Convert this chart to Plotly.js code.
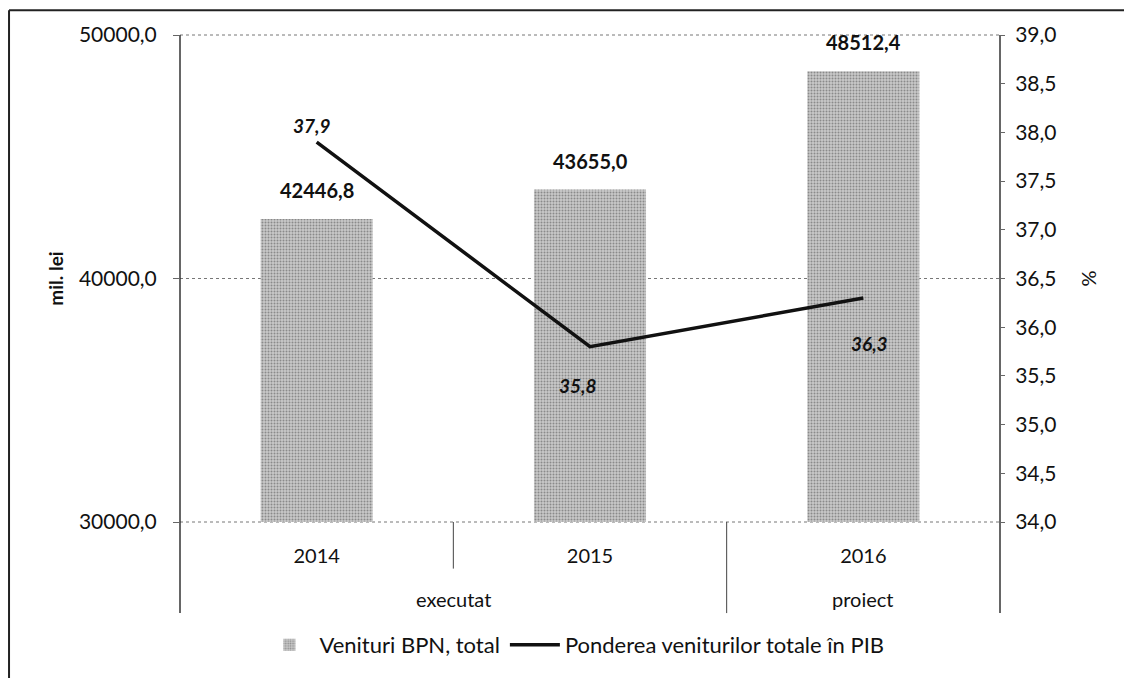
<!DOCTYPE html>
<html>
<head>
<meta charset="utf-8">
<script src="https://cdn.plot.ly/plotly-3.0.1.min.js"></script>
<style>html,body{margin:0;padding:0;background:#fff;}#chart{width:1124px;height:678px;}</style>
</head>
<body>
<div id="chart"></div>
<script>
// ---- data ----
var groups = ["executat", "executat", "proiect"];
var years = ["2014", "2015", "2016"];
var venituri = [42446.8, 43655.0, 48512.4];
var pondere = [37.9, 35.8, 36.3];
var barName = "Venituri BPN, total";
var lineName = "Ponderea veniturilor totale în PIB";
var leftTitle = "mil. lei";
var rightTitle = "%";

var FONT = "Lato, 'Open Sans', sans-serif";
function fmt(v){ return v.toFixed(1).replace('.', ','); }

var barTrace = {
  type: 'bar',
  name: barName,
  x: years,
  y: venituri,
  marker: {
    color: '#bdbdbd',
    pattern: {shape: '.', bgcolor: '#c9c9c9', fgcolor: '#8a8a8a', size: 3, solidity: 0.35},
    line: {width: 0}
  },
  hoverinfo: 'skip'
};
var lineTrace = {
  type: 'scatter',
  mode: 'lines',
  name: lineName,
  x: years,
  y: pondere,
  yaxis: 'y2',
  line: {color: '#111', width: 3.5},
  hoverinfo: 'skip'
};

var annotations = [];
venituri.forEach(function(v, i){
  annotations.push({
    x: i, y: v, xref: 'x', yref: 'y', text: '<b>' + fmt(v) + '</b>',
    showarrow: false, yanchor: 'middle', yshift: 29,
    font: {family: FONT, size: 20, color: '#111'}
  });
});
var lxs = [-5, -12, 6];
var lys = [17, -39, -46];
pondere.forEach(function(v, i){
  annotations.push({
    x: i, y: v, xref: 'x', yref: 'y2', text: '<b><i>' + fmt(v) + '</i></b>',
    showarrow: false, yanchor: 'middle', xshift: lxs[i], yshift: lys[i],
    font: {family: FONT, size: 19, color: '#111'}
  });
});
// group labels (outer category level), centred on their categories
var seen = {};
groups.forEach(function(g, i){
  if(!seen[g]) seen[g] = [];
  seen[g].push(i);
});
Object.keys(seen).forEach(function(g){
  var idx = seen[g];
  var c = (idx[0] + idx[idx.length - 1]) / 2;
  annotations.push({
    x: c, xref: 'x', y: -0.159, yref: 'paper', text: g, showarrow: false,
    yanchor: 'middle', font: {family: FONT, size: 20, color: '#111'}
  });
});

var divider = {color: '#444', width: 1};
var grid = {color: '#777', width: 1, dash: 'dot'};
var layout = {
  width: 1124, height: 678,
  margin: {l: 180, r: 124, t: 35, b: 152},
  paper_bgcolor: '#fff', plot_bgcolor: '#fff',
  separators: ', ',
  font: {family: FONT, size: 20, color: '#111'},
  bargap: 0.59,
  showlegend: true,
  legend: {orientation: 'h', x: 0.481, xanchor: 'center', y: -0.2525, yanchor: 'middle',
           itemwidth: 50, font: {family: FONT, size: 22, color: '#111'}, traceorder: 'normal'},
  xaxis: {
    type: 'category',
    showline: false, showgrid: false, zeroline: false,
    ticks: '', ticklabelstandoff: 20, tickfont: {family: FONT, size: 20, color: '#111'}
  },
  yaxis: {
    range: [30000, 50000], dtick: 10000, tickformat: '.1f',
    showgrid: true, gridcolor: '#777', griddash: 'dot', gridwidth: 1,
    zeroline: false, showline: false,
    ticks: 'outside', ticklen: 6, tickcolor: '#666', ticklabelstandoff: 12,
    tickfont: {family: FONT, size: 21, color: '#111'},
    title: {text: '<b>' + leftTitle + '</b>', font: {family: FONT, size: 19, color: '#111'}, standoff: 10}
  },
  yaxis2: {
    overlaying: 'y', side: 'right',
    range: [34, 39], dtick: 0.5, tickformat: '.1f',
    showgrid: false, zeroline: false, showline: false,
    ticks: 'outside', ticklen: 4, tickcolor: '#666', ticklabelstandoff: 6,
    tickfont: {family: FONT, size: 21, color: '#111'},
    title: {text: rightTitle, font: {family: FONT, size: 20, color: '#111'}, standoff: 26}
  },
  annotations: annotations,
  shapes: [
    {type: 'line', xref: 'paper', yref: 'paper', x0: 0, x1: 1, y0: 1, y1: 1, line: grid, layer: 'below'},
    {type: 'line', xref: 'paper', yref: 'paper', x0: 0, x1: 1, y0: 0, y1: 0, line: grid, layer: 'below'},
    {type: 'line', xref: 'paper', yref: 'paper', x0: 0, x1: 0, y0: 1, y1: -0.187, line: {color: '#333', width: 1.5}},
    {type: 'line', xref: 'paper', yref: 'paper', x0: 1, x1: 1, y0: 1, y1: -0.187, line: {color: '#333', width: 1.5}},
    {type: 'line', xref: 'paper', yref: 'paper', x0: 2/3, x1: 2/3, y0: 0, y1: -0.187, line: divider},
    {type: 'line', xref: 'paper', yref: 'paper', x0: 1/3, x1: 1/3, y0: 0, y1: -0.0957, line: divider},
    {type: 'line', xref: 'paper', yref: 'paper', x0: -0.2085, x1: -0.2085, y0: 1.051, y1: -0.4,
     line: {color: '#222', width: 2}},
    {type: 'line', xref: 'paper', yref: 'paper', x0: -0.2085, x1: 1.2, y0: 1.051, y1: 1.051,
     line: {color: '#222', width: 2}}
  ]
};

Plotly.newPlot('chart', [barTrace, lineTrace], layout, {displayModeBar: false, staticPlot: true});
</script>
</body>
</html>
